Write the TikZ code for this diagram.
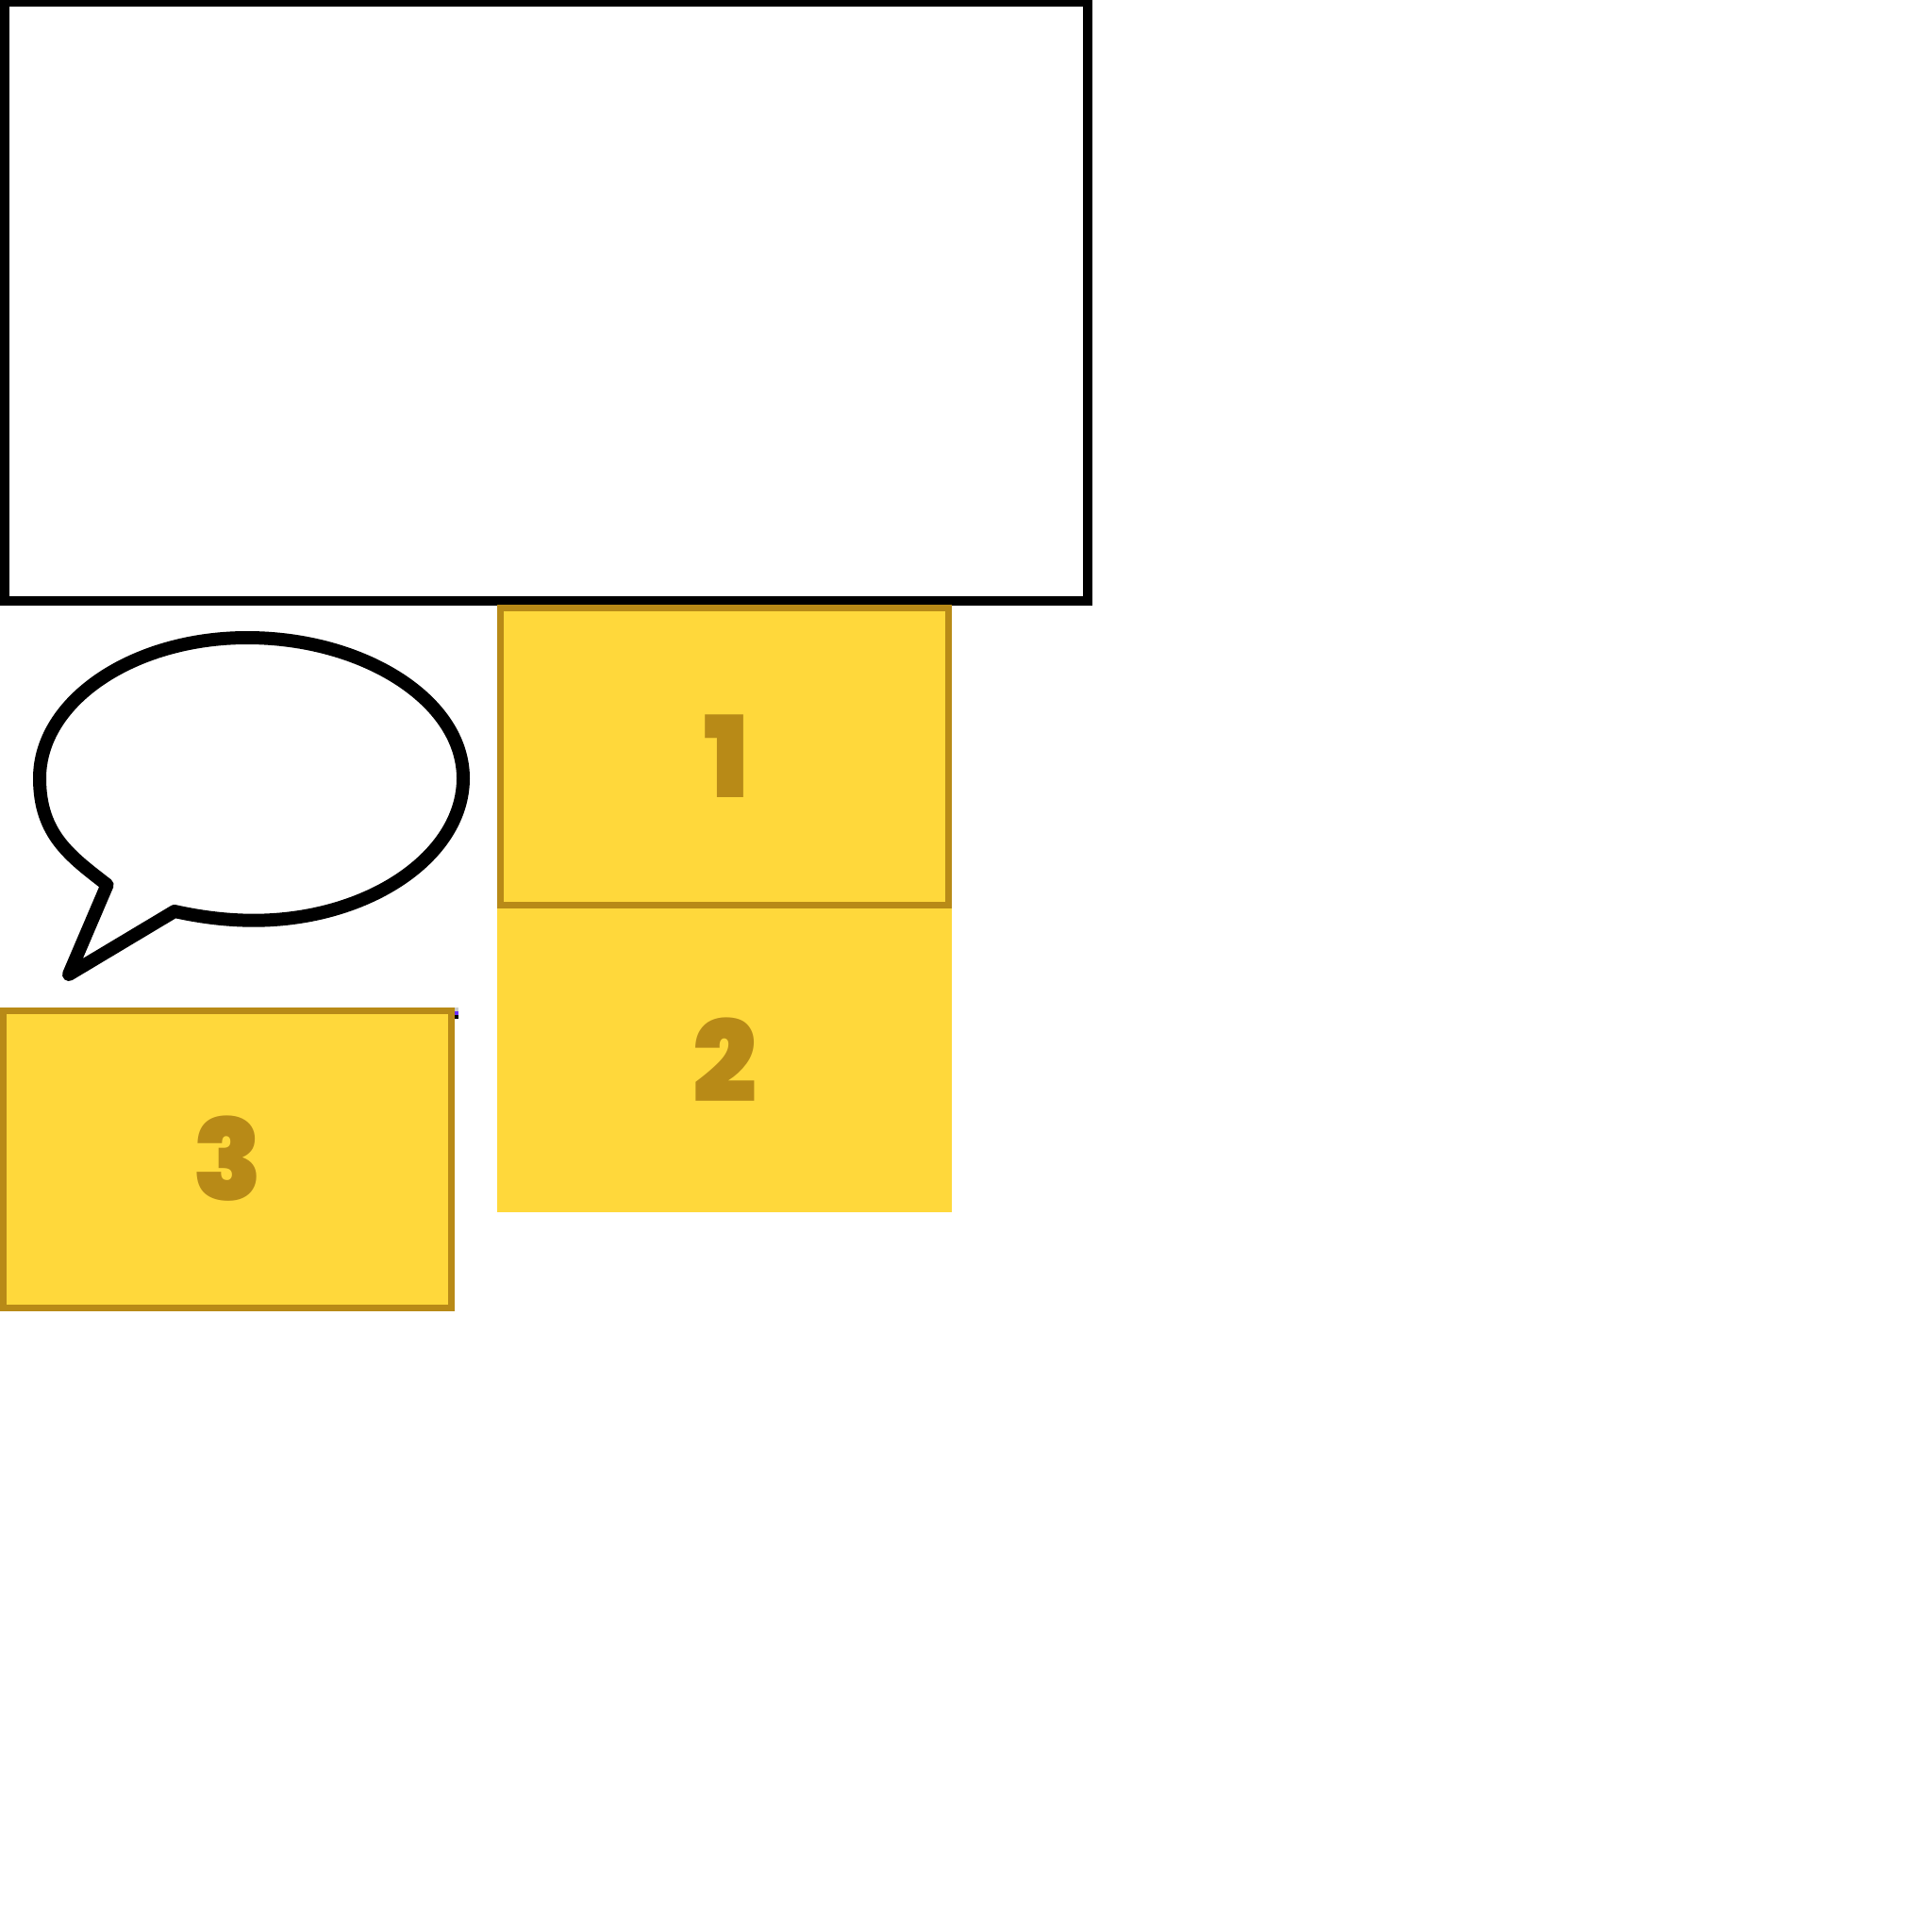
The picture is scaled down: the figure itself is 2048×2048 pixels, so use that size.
\documentclass[tikz,border=0pt]{standalone}
\usepackage{fontspec}
\usepackage{tikz}
\usetikzlibrary{positioning}
\newfontfamily\digitfont{Poppins}[UprightFont={* Black}]
\definecolor{boxfill}{HTML}{FFD83B}
\definecolor{boxline}{HTML}{B88A17}
\definecolor{specklet}{HTML}{6A2FFF}

\begin{document}
\begin{tikzpicture}[
		x=.5pt, y=-.5pt
		,frame/.style={draw, line width=5pt, minimum width=574pt, minimum height=317.25pt, inner sep=0}
		,panel/.style={fill=boxfill, minimum width=237.5pt, minimum height=157.5pt, inner sep=0}
		,edged/.style={draw=boxline, line width=3.5pt}
		,digit/.style={text=boxline, inner sep=0, font=\digitfont\fontsize{60}{60}\selectfont}
		,balloon/.style={draw, line width=7pt, line join=round}
	]
		\useasboundingbox (0,0) rectangle (2048,2048);

		% speck behind the third panel
		\fill[gray!40] (478,1068) rectangle (486,1072);
		\fill[specklet] (478,1072) rectangle (486,1076);
		\fill (478,1076) rectangle (486,1080);

		\node[frame] (top) at (579,319.25) {};

		\node[panel, edged] (one) at (768,802) {};
		\node[panel, minimum width=241pt, minimum height=161pt, below=0pt of one] (two) {};
		\node[panel, edged] (three) at (241,1229) {};

		\node[digit] (numone) at (770,802) {1};
		\node[digit] (numtwo) at (768.5,1123.5) {2};
		\node[digit] (numthree) at (241,1228.5) {3};

		\draw[balloon] (113.6,938)
			.. controls (75,908) and (42,885) .. (42,825)
			.. controls (42,743) and (141,676) .. (262,676)
			.. controls (386,676) and (491,743) .. (491,825)
			.. controls (491,907) and (391,975.7) .. (269,975.7)
			.. controls (240,975.7) and (212,972) .. (185,966)
			-- (73,1033) -- cycle;
	\end{tikzpicture}
\end{document}
